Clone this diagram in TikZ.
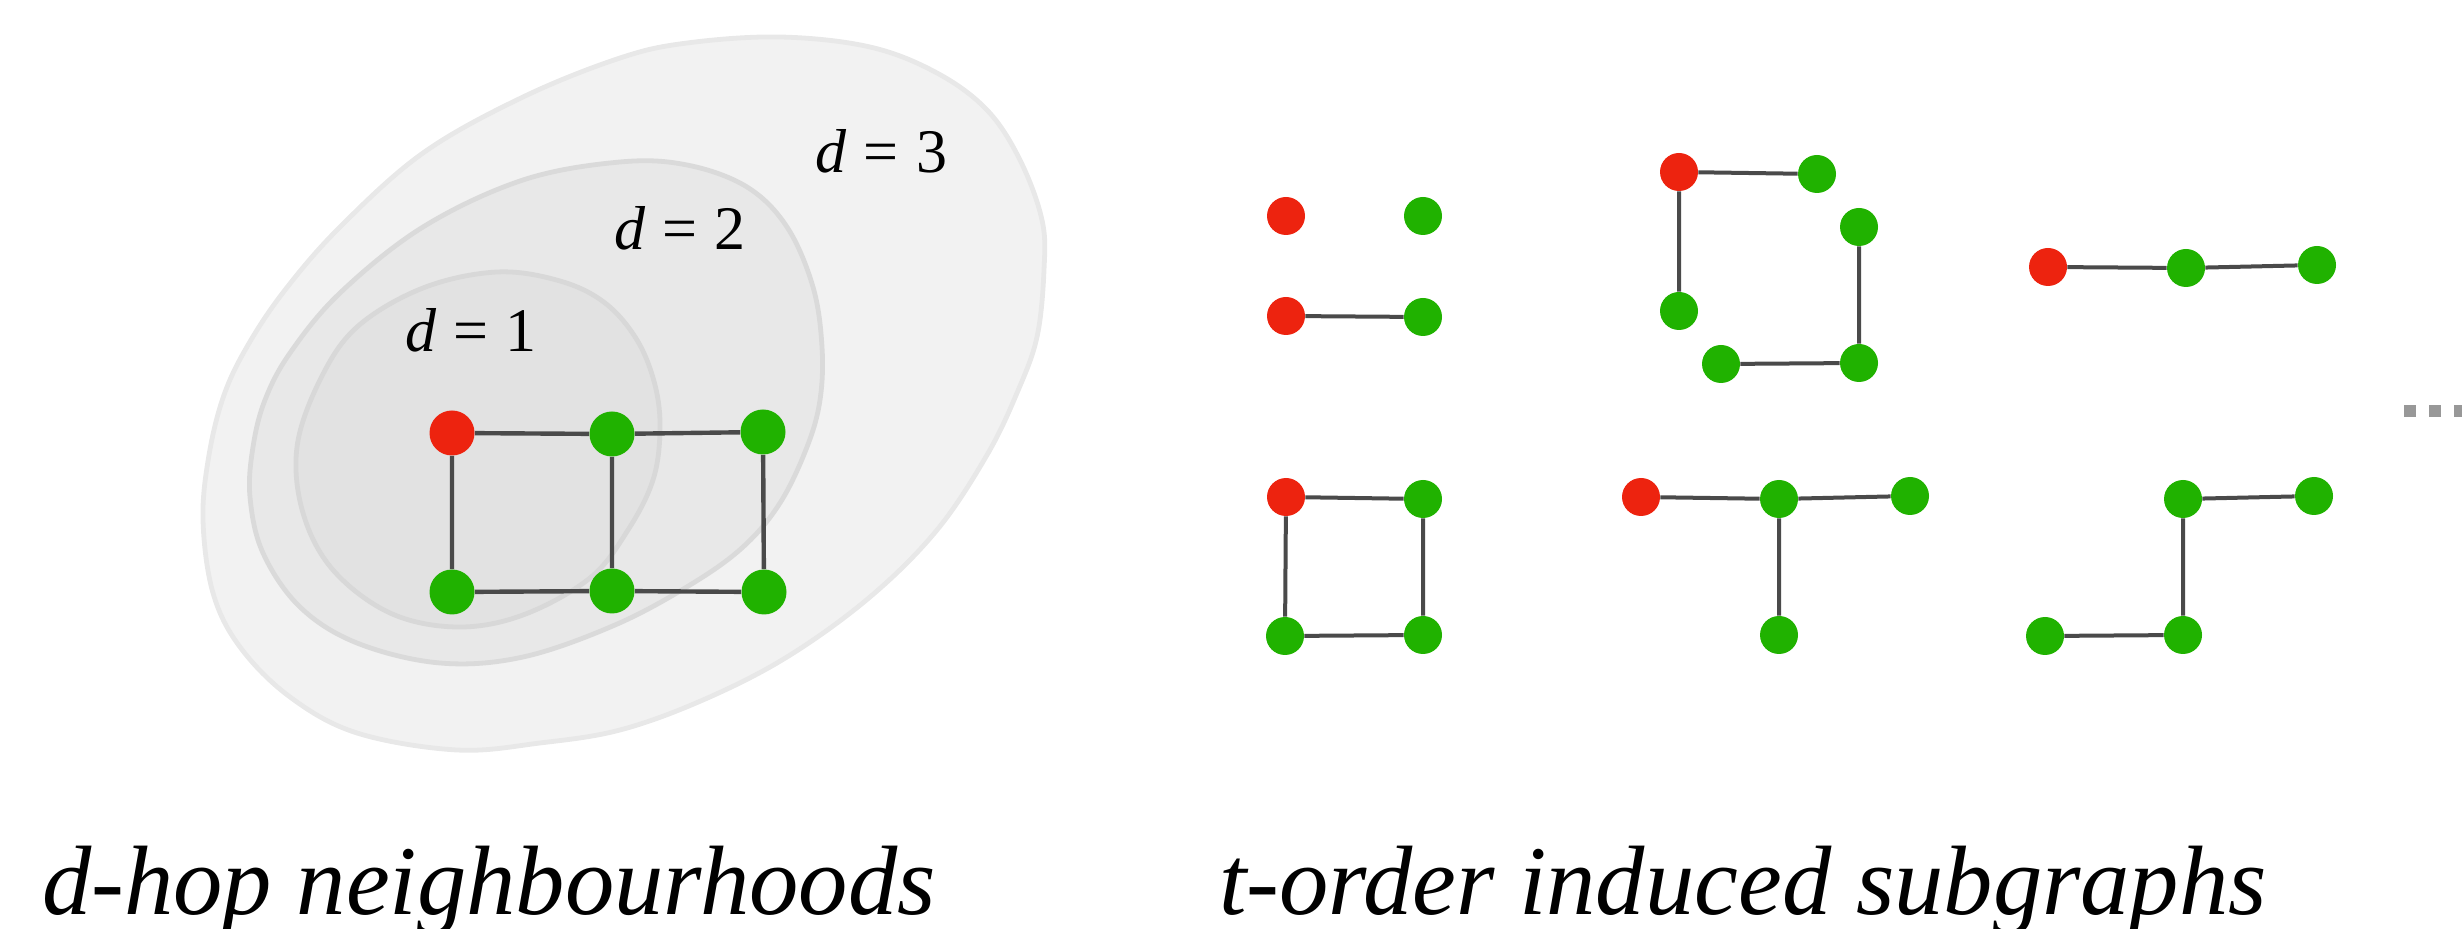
\documentclass[tikz,border=0pt]{standalone}
\usepackage{fontspec}
\setmainfont{Liberation Serif}
\definecolor{nred}{RGB}{237,35,15}
\definecolor{ngreen}{RGB}{32,178,0}
\definecolor{edgec}{RGB}{74,74,74}
\definecolor{dotgray}{RGB}{152,152,152}
\definecolor{fillA}{RGB}{242,242,242}
\definecolor{lineA}{RGB}{232,232,232}
\definecolor{fillB}{RGB}{232,232,232}
\definecolor{lineB}{RGB}{218,218,218}
\definecolor{fillC}{RGB}{226,226,226}
\definecolor{lineC}{RGB}{216,216,216}
\begin{document}
\begin{tikzpicture}[x=0.5pt,y=-0.5pt,
  vr/.style={circle,fill=nred,inner sep=0pt,minimum size=22.5pt},
  vg/.style={circle,fill=ngreen,inner sep=0pt,minimum size=22.5pt},
  sr/.style={circle,fill=nred,inner sep=0pt,minimum size=19pt},
  sg/.style={circle,fill=ngreen,inner sep=0pt,minimum size=19pt},
  ed/.style={draw=edgec,line width=2.2pt},
  sed/.style={draw=edgec,line width=2pt},
  lab/.style={anchor=base west,inner sep=0pt,font=\fontsize{31}{36}\selectfont},
  ttl/.style={anchor=base,inner sep=0pt,font=\fontsize{49.3}{58}\selectfont\itshape},
  blob/.style={line width=2.4pt}]
\useasboundingbox (0,0) rectangle (2462,929);
% neighbourhood regions
\draw[blob,fill=fillA,draw=lineA] plot[smooth cycle,tension=0.6] coordinates {
 (780,37) (870,47) (937,73) (987,110) (1020,160) (1042,220) (1044,270) (1037,337)
 (1017,393) (987,455) (937,530) (870,597) (787,657) (703,700) (620,730) (540,743)
 (457,750) (357,733) (290,697) (240,647) (213,593) (203,520) (209,455) (224,395)
 (248,345) (285,290) (340,227) (423,153) (523,97) (620,58) (687,43)};
\draw[blob,fill=fillB,draw=lineB] plot[smooth cycle,tension=0.6] coordinates {
 (620,162) (687,165) (747,187) (787,227) (813,287) (822,347) (820,400) (807,447)
 (780,503) (743,547) (690,585) (615,625) (523,657) (440,663) (357,643) (300,607)
 (263,553) (250,497) (253,447) (265,400) (290,353) (340,293) (423,227) (523,180)};
\draw[blob,fill=fillC,draw=lineC] plot[smooth cycle,tension=0.6] coordinates {
 (497,272) (560,281) (605,303) (637,340) (655,385) (660,430) (653,480) (628,530)
 (590,578) (523,615) (457,627) (390,613) (333,570) (303,513) (297,447) (320,380)
 (357,327) (423,288)};
% labels
\node[lab] (l3) at (815,173) {\textit{d}\hspace{0.278em}=\hspace{0.278em}3};
\node[lab] (l2) at (614,250) {\textit{d}\hspace{0.278em}=\hspace{0.278em}2};
\node[lab] (l1) at (405,352) {\textit{d}\hspace{0.278em}=\hspace{0.278em}1};
% left graph
\node[vr] (a) at (452,433) {};
\node[vg] (b) at (612,434) {};
\node[vg] (c) at (763,432) {};
\node[vg] (d) at (452,592) {};
\node[vg] (e) at (612,591) {};
\node[vg] (f) at (764,592) {};
\path[ed] (a)--(b) (b)--(c) (a)--(d) (b)--(e) (c)--(f) (d)--(e) (e)--(f);
% group A
\node[sr] (A1) at (1286,216) {};
\node[sg] (A2) at (1423,216) {};
\node[sr] (A3) at (1286,316) {};
\node[sg] (A4) at (1423,317) {};
\path[sed] (A3)--(A4);
% group B
\node[sr] (B0) at (1679,172) {};
\node[sg] (B1) at (1817,174) {};
\node[sg] (B2) at (1859,227) {};
\node[sg] (B3) at (1679,311) {};
\node[sg] (B4) at (1721,364) {};
\node[sg] (B5) at (1859,363) {};
\path[sed] (B0)--(B1) (B0)--(B3) (B2)--(B5) (B4)--(B5);
% group C
\node[sr] (C0) at (2048,267) {};
\node[sg] (C1) at (2186,268) {};
\node[sg] (C2) at (2317,265) {};
\path[sed] (C0)--(C1) (C1)--(C2);
% group D
\node[sr] (D0) at (1286,497) {};
\node[sg] (D1) at (1423,499) {};
\node[sg] (D2) at (1285,636) {};
\node[sg] (D3) at (1423,635) {};
\path[sed] (D0)--(D1) (D0)--(D2) (D1)--(D3) (D2)--(D3);
% group E
\node[sr] (E0) at (1641,497) {};
\node[sg] (E1) at (1779,499) {};
\node[sg] (E2) at (1910,496) {};
\node[sg] (E3) at (1779,635) {};
\path[sed] (E0)--(E1) (E1)--(E2) (E1)--(E3);
% group F
\node[sg] (F1) at (2183,499) {};
\node[sg] (F2) at (2314,496) {};
\node[sg] (F3) at (2045,636) {};
\node[sg] (F4) at (2183,635) {};
\path[sed] (F1)--(F2) (F1)--(F4) (F3)--(F4);
% ellipsis
\fill[dotgray] (2404,405) rectangle (2416,417);
\fill[dotgray] (2429,405) rectangle (2441,417);
\fill[dotgray] (2454,405) rectangle (2466,417);
% titles
\node[ttl] (t1) at (489,914) {d-hop neighbourhoods};
\node[ttl] (t2) at (1743,914) {t-order induced subgraphs};
\end{tikzpicture}
\end{document}
